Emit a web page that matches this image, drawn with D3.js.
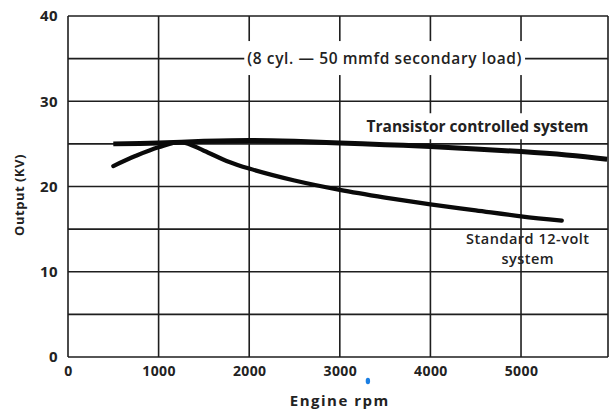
<!DOCTYPE html>
<html>
<head>
<meta charset="utf-8">
<script src="https://d3js.org/d3.v7.min.js"></script>
<style>
  body { margin: 0; background: #fff; }
  text { font-family: "Open Sans", "Liberation Sans", Arial, sans-serif; fill: #222; }
</style>
</head>
<body>
<div id="chart"></div>
<script>
// Data
const xTicks = [0, 1000, 2000, 3000, 4000, 5000]
const yTicks = [0, 10, 20, 30, 40]
const yGrid = [0, 5, 10, 15, 20, 25, 30, 35, 40]

const transistorRpm = [500, 1000, 1500, 2000, 2500, 3000, 3500, 4000, 4500, 5000, 5500, 5950]
const transistorKv  = [25.0, 25.1, 25.3, 25.4, 25.3, 25.1, 24.9, 24.7, 24.4, 24.1, 23.7, 23.2]

const standardRpm = [500, 750, 1000, 1250, 1500, 1750, 2000, 2500, 3000, 3500, 4000, 4500, 5000, 5450]
const standardKv  = [22.4, 23.6, 24.6, 25.2, 24.2, 23.0, 22.1, 20.7, 19.6, 18.7, 17.9, 17.2, 16.5, 16.0]

const toPoints = (xs, ys) => xs.map((x, i) => ({rpm: x, kv: ys[i]}))

function draw(el) {
  const width = 613, height = 416
  const margin = {left: 68, right: 5, top: 16, bottom: 59}
  const innerW = width - margin.left - margin.right
  const innerH = height - margin.top - margin.bottom

  const svg = d3.select(el).append("svg")
    .attr("width", width)
    .attr("height", height)

  svg.append("rect").attr("width", width).attr("height", height).attr("fill", "#fff")

  const g = svg.append("g")
    .attr("transform", `translate(${margin.left},${margin.top})`)

  // Scales
  const x = d3.scaleLinear().domain([0, 5960]).range([0, innerW])
  const y = d3.scaleLinear().domain([0, 40]).range([innerH, 0])

  // Grid
  g.selectAll(".hgrid").data(yGrid).join("line")
    .attr("x1", 0).attr("x2", innerW)
    .attr("y1", d => y(d)).attr("y2", d => y(d))
    .attr("stroke", "#1e1e1e").attr("stroke-width", 1.6)

  g.selectAll(".vgrid").data(xTicks.concat([5960])).join("line")
    .attr("x1", d => x(d)).attr("x2", d => x(d))
    .attr("y1", 0).attr("y2", innerH)
    .attr("stroke", "#1e1e1e").attr("stroke-width", 1.6)

  // Axes (labels only)
  const xAxis = g.append("g")
    .attr("transform", `translate(0,${innerH})`)
    .call(d3.axisBottom(x).tickValues(xTicks).tickSize(0).tickPadding(6).tickFormat(d3.format("d")))
  xAxis.select(".domain").remove()
  xAxis.selectAll("text").attr("font-size", 14).attr("fill", "#333")
    .attr("font-family", "'Liberation Sans Narrow', 'Liberation Sans', sans-serif")
    .attr("font-weight", "bold").attr("letter-spacing", 0.4)
    .attr("dy", "0.9em")

  const yAxis = g.append("g")
    .call(d3.axisLeft(y).tickValues(yTicks).tickSize(0).tickPadding(10))
  yAxis.select(".domain").remove()
  yAxis.selectAll("text").attr("font-size", 15).attr("fill", "#333")
    .attr("font-family", "'Liberation Sans Narrow', 'Liberation Sans', sans-serif")
    .attr("font-weight", "bold").attr("letter-spacing", 0.4)

  // Axis titles
  svg.append("text")
    .attr("transform", `translate(24,${margin.top + y(19)}) rotate(-90)`)
    .attr("text-anchor", "middle")
    .attr("font-family", "'Liberation Sans', sans-serif")
    .attr("font-size", 13).attr("font-weight", "bold")
    .attr("letter-spacing", 0.5)
    .text("Output (KV)")

  svg.append("text")
    .attr("x", margin.left + x(3000))
    .attr("y", 406)
    .attr("text-anchor", "middle")
    .attr("font-family", "'Liberation Sans', sans-serif")
    .attr("font-size", 15).attr("font-weight", "bold")
    .attr("letter-spacing", 1.5)
    .text("Engine rpm")

  // small blue speck under the axis
  svg.append("ellipse")
    .attr("cx", margin.left + x(3310)).attr("cy", 381)
    .attr("rx", 2.2).attr("ry", 3.2)
    .attr("fill", "#1b7fe3")

  // Header annotation breaking the 35 kV line
  const note = g.append("g")
  const noteText = note.append("text")
    .attr("x", (x(1950) + x(5040)) / 2)
    .attr("y", y(35))
    .attr("dy", "0.35em")
    .attr("text-anchor", "middle")
    .attr("font-size", 15.5).attr("font-weight", 600)
    .attr("letter-spacing", 0.6)
    .attr("fill", "#2a2a2a")
    .text("(8 cyl. \u2014 50 mmfd secondary load)")
  const nb = noteText.node().getBBox()
  note.insert("rect", "text")
    .attr("x", nb.x - 3).attr("y", nb.y - 6)
    .attr("width", nb.width + 6).attr("height", nb.height + 12)
    .attr("fill", "#fff")

  // Curves
  const line = d3.line()
    .x(d => x(d.rpm))
    .y(d => y(d.kv))
    .curve(d3.curveCatmullRom.alpha(0.5))

  g.append("path")
    .datum(toPoints(standardRpm, standardKv))
    .attr("d", line)
    .attr("fill", "none")
    .attr("stroke", "#0a0a0a")
    .attr("stroke-width", 4.2)
    .attr("stroke-linecap", "round")

  g.append("path")
    .datum(toPoints(transistorRpm, transistorKv))
    .attr("d", line)
    .attr("fill", "none")
    .attr("stroke", "#0a0a0a")
    .attr("stroke-width", 5)
    .attr("stroke-linecap", "butt")

  // Curve labels
  const tLabel = g.append("g")
  const tText = tLabel.append("text")
    .attr("x", (x(3280) + x(5760)) / 2)
    .attr("y", y(27.0))
    .attr("dy", "0.35em")
    .attr("text-anchor", "middle")
    .attr("font-family", "'Liberation Sans', sans-serif")
    .attr("font-size", 15.5).attr("font-weight", "bold")
    .text("Transistor controlled system")
  const tb = tText.node().getBBox()
  tLabel.insert("rect", "text")
    .attr("x", tb.x - 3).attr("y", tb.y - 2)
    .attr("width", tb.width + 6).attr("height", tb.height + 4)
    .attr("fill", "#fff")

  const sx = (x(4350) + x(5800)) / 2
  const sLabel = g.append("g")
    .attr("text-anchor", "middle")
    .attr("font-size", 14.5).attr("font-weight", 600)
    .attr("letter-spacing", 0.5)
  sLabel.append("text")
    .attr("x", sx).attr("y", y(13.8))
    .attr("dy", "0.35em")
    .attr("fill", "#333")
    .text("Standard 12-volt")
  sLabel.append("text")
    .attr("x", sx).attr("y", y(11.5))
    .attr("dy", "0.35em")
    .attr("fill", "#333")
    .text("system")
}

draw("#chart")
</script>
</body>
</html>
